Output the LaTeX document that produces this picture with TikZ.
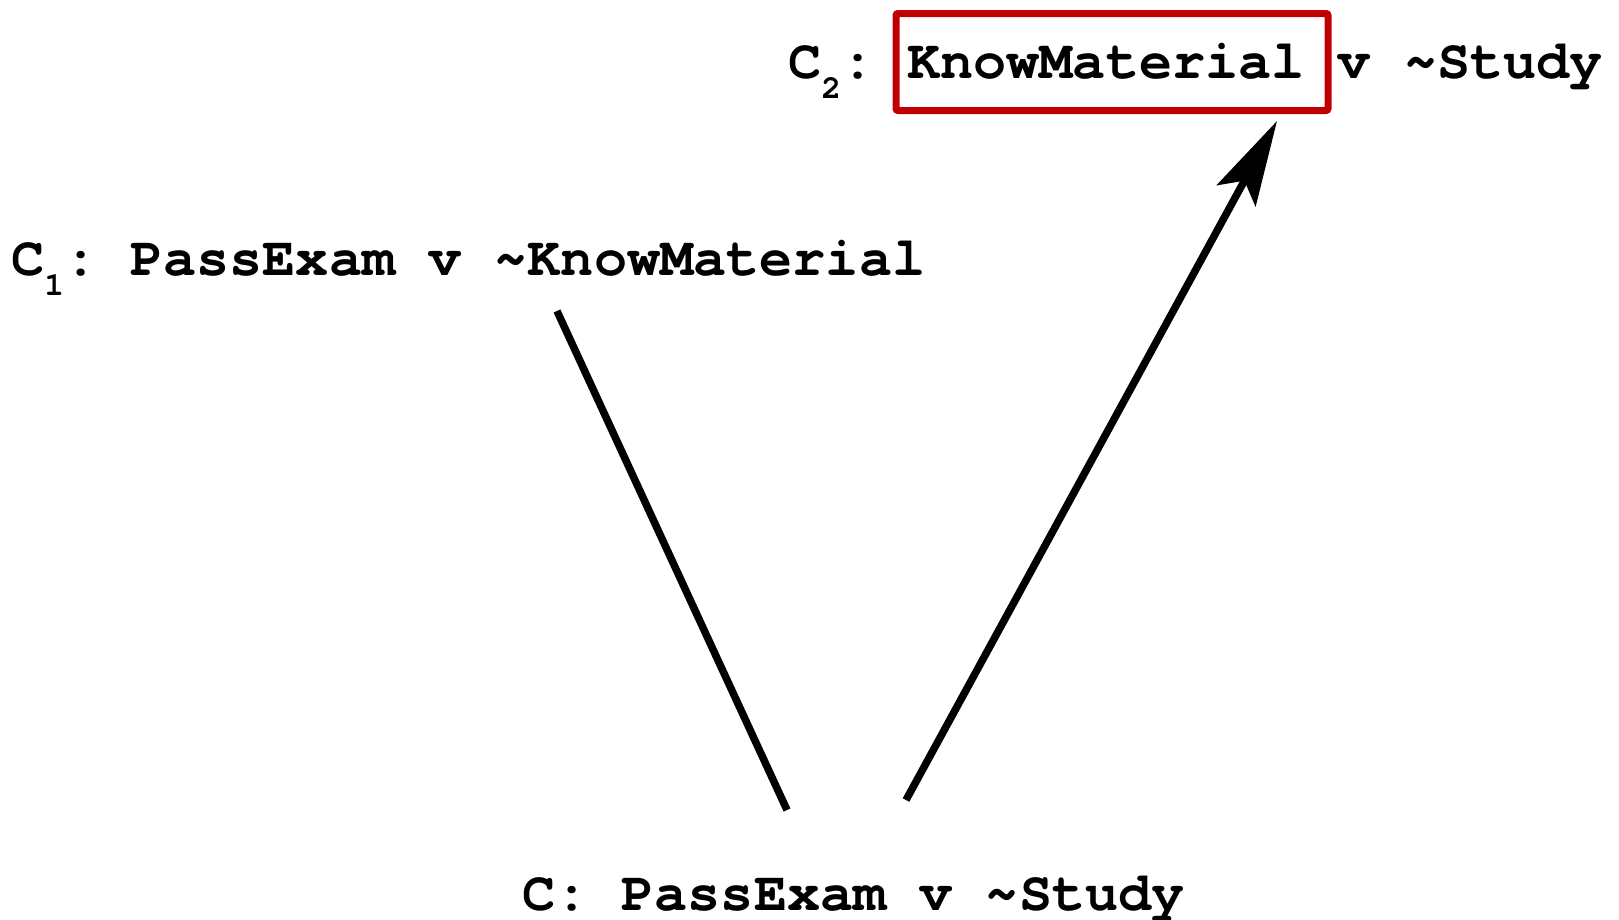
\documentclass[tikz,border=0pt]{standalone}
\usepackage{fontspec}
\newfontfamily\cour{TeX Gyre Cursor}
\usetikzlibrary{arrows.meta}
\definecolor{boxred}{RGB}{192,0,0}
\newcommand\subs[1]{\raisebox{-20pt}{\fontsize{33pt}{33pt}\selectfont #1}}
\begin{document}
\begin{tikzpicture}[x=1pt,y=-1pt,
  clause/.style={anchor=base west,inner sep=0pt,font=\cour\bfseries\fontsize{55.2pt}{60pt}\selectfont},
  hilite/.style={draw=boxred,line width=7pt,rounded corners=2pt,minimum width=432pt,minimum height=97pt,inner sep=0pt},
  conn/.style={line width=7.5pt,black}]
\useasboundingbox (0,0) rectangle (1619,919);
\node[clause] (c2) at (788,78) {C\subs{2}:\hspace{-11pt} KnowMaterial v \textasciitilde Study};
\node[hilite] (box) at (1112,62) {};
\node[clause] (c1) at (11,275) {C\subs{1}:\hspace{-11pt} PassExam v \textasciitilde KnowMaterial};
\node[clause] (c) at (522,910) {C: PassExam v \textasciitilde Study};
\coordinate (l1s) at (557,311);
\coordinate (l1e) at (787,810);
\coordinate (l2s) at (906,800);
\coordinate (l2e) at (1277,121);
\draw[conn] (l1s) -- (l1e);
\draw[conn,-{Stealth[length=85pt,width=44pt,inset=17pt]}] (l2s) -- (l2e);
\end{tikzpicture}
\end{document}
